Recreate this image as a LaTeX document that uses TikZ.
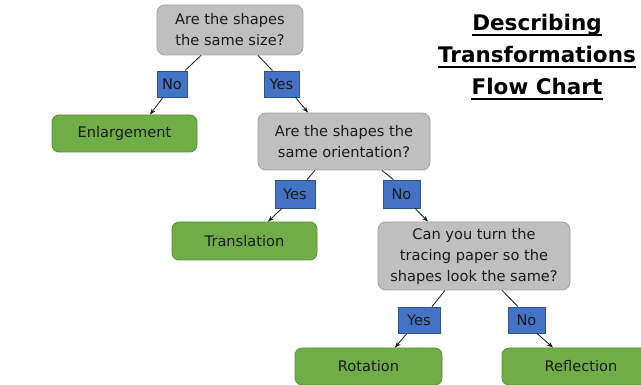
\documentclass[tikz,border=0pt]{standalone}
\usepackage{fontspec}
\setmainfont{DejaVu Sans}
\usetikzlibrary{arrows.meta}

\definecolor{qfill}{HTML}{BFBFBF}
\definecolor{qline}{HTML}{A3A3A3}
\definecolor{afill}{HTML}{70AD47}
\definecolor{aline}{HTML}{5B8F3A}
\definecolor{lfill}{HTML}{4472C4}
\definecolor{lline}{HTML}{2F528F}
\definecolor{ink}{HTML}{1A1A1A}

\tikzset{
  question/.style={draw=qline, fill=qfill, rounded corners=8pt, line width=0.8pt,
    align=center, inner sep=0pt, text=ink,
    font=\fontsize{14.6}{21}\selectfont},
  answer/.style={draw=aline, fill=afill, rounded corners=7pt, line width=0.8pt,
    inner sep=0pt, text=ink, font=\fontsize{14.6}{17}\selectfont},
  choice/.style={draw=lline, fill=lfill, line width=0.8pt, inner sep=0pt,
    text=ink, font=\fontsize{14.6}{17}\selectfont},
  link/.style={draw=ink, line width=0.8pt},
  arrowlink/.style={link, -{Stealth[length=6pt,width=4.5pt]}},
  heading/.style={anchor=base, inner sep=0pt, text=black,
    font=\fontsize{21.5}{24}\bfseries\selectfont},
  rule/.style={draw=black, line width=1.5pt}
}

\begin{document}
\begin{tikzpicture}[x=1pt, y=-1pt]
  \useasboundingbox (0,0) rectangle (641,385);
  \clip (0,0) rectangle (641,385);
  \fill[white] (0,0) rectangle (641,385);

  % title, each line with its own underline
  \node[heading] (tit1) at (537,31) {Describing};
  \node[heading] (tit2) at (537,63) {Transformations};
  \node[heading] (tit3) at (537,95) {Flow Chart};
  \draw[rule] ([yshift=-4pt]tit1.base west) -- ([yshift=-4pt]tit1.base east);
  \draw[rule] ([yshift=-4pt]tit2.base west) -- ([yshift=-4pt]tit2.base east);
  \draw[rule] ([yshift=-4pt]tit3.base west) -- ([yshift=-4pt]tit3.base east);

  % questions
  \node[question, minimum width=146pt, minimum height=50pt] (q1) at (230,30)
    {Are the shapes\\the same size?};
  \node[question, minimum width=172pt, minimum height=57pt] (q2) at (344,141.5)
    {Are the shapes the\\same orientation?};
  \node[question, minimum width=192pt, minimum height=68pt] (q3) at (474,256)
    {Can you turn the\\tracing paper so the\\shapes look the same?};

  % answers
  \node[answer, minimum width=145pt, minimum height=37pt] (enl) at (124.5,133.5) {Enlargement};
  \node[answer, minimum width=145pt, minimum height=38pt] (trans) at (244.5,241) {Translation};
  \node[answer, minimum width=147pt, minimum height=37pt] (rot) at (368.5,366.5) {Rotation};
  \node[answer, minimum width=158pt, minimum height=37pt] (refl) at (581,366.5) {Reflection};

  % yes / no labels
  \node[choice, minimum width=30pt, minimum height=26pt] (noA) at (172,84) {No};
  \node[choice, minimum width=35pt, minimum height=26pt] (yesA) at (281.5,84) {Yes};
  \node[choice, minimum width=40pt, minimum height=28pt] (yesB) at (295,194) {Yes};
  \node[choice, minimum width=37pt, minimum height=28pt] (noB) at (401.5,194) {No};
  \node[choice, minimum width=42pt, minimum height=26pt] (yesC) at (419,320) {Yes};
  \node[choice, minimum width=37pt, minimum height=26pt] (noC) at (526.5,320) {No};

  % connectors: question -> label
  \draw[link] ([xshift=-29pt]q1.south) -- ([xshift=13pt]noA.north);
  \draw[link] ([xshift=28pt]q1.south) -- ([xshift=-9pt]yesA.north);
  \draw[link] ([xshift=-29pt]q2.south) -- ([xshift=12pt]yesB.north);
  \draw[link] ([xshift=38pt]q2.south) -- ([xshift=-8pt]noB.north);
  \draw[link] ([xshift=-29pt]q3.south) -- ([xshift=13pt]yesC.north);
  \draw[link] ([xshift=28pt]q3.south) -- ([xshift=-8.5pt]noC.north);

  % connectors: label -> next box
  \draw[arrowlink] ([xshift=-9pt]noA.south) -- ([xshift=25.5pt]enl.north);
  \draw[arrowlink] ([xshift=14pt]yesA.south) -- ([xshift=-36pt]q2.north);
  \draw[arrowlink] ([xshift=-13pt]yesB.south) -- ([xshift=23.5pt]trans.north);
  \draw[arrowlink] ([xshift=13.5pt]noB.south) -- ([xshift=-46pt]q3.north);
  \draw[arrowlink] ([xshift=-12pt]yesC.south) -- ([xshift=26.5pt]rot.north);
  \draw[arrowlink] ([xshift=10.5pt]noC.south) -- ([xshift=-28pt]refl.north);
\end{tikzpicture}
\end{document}
